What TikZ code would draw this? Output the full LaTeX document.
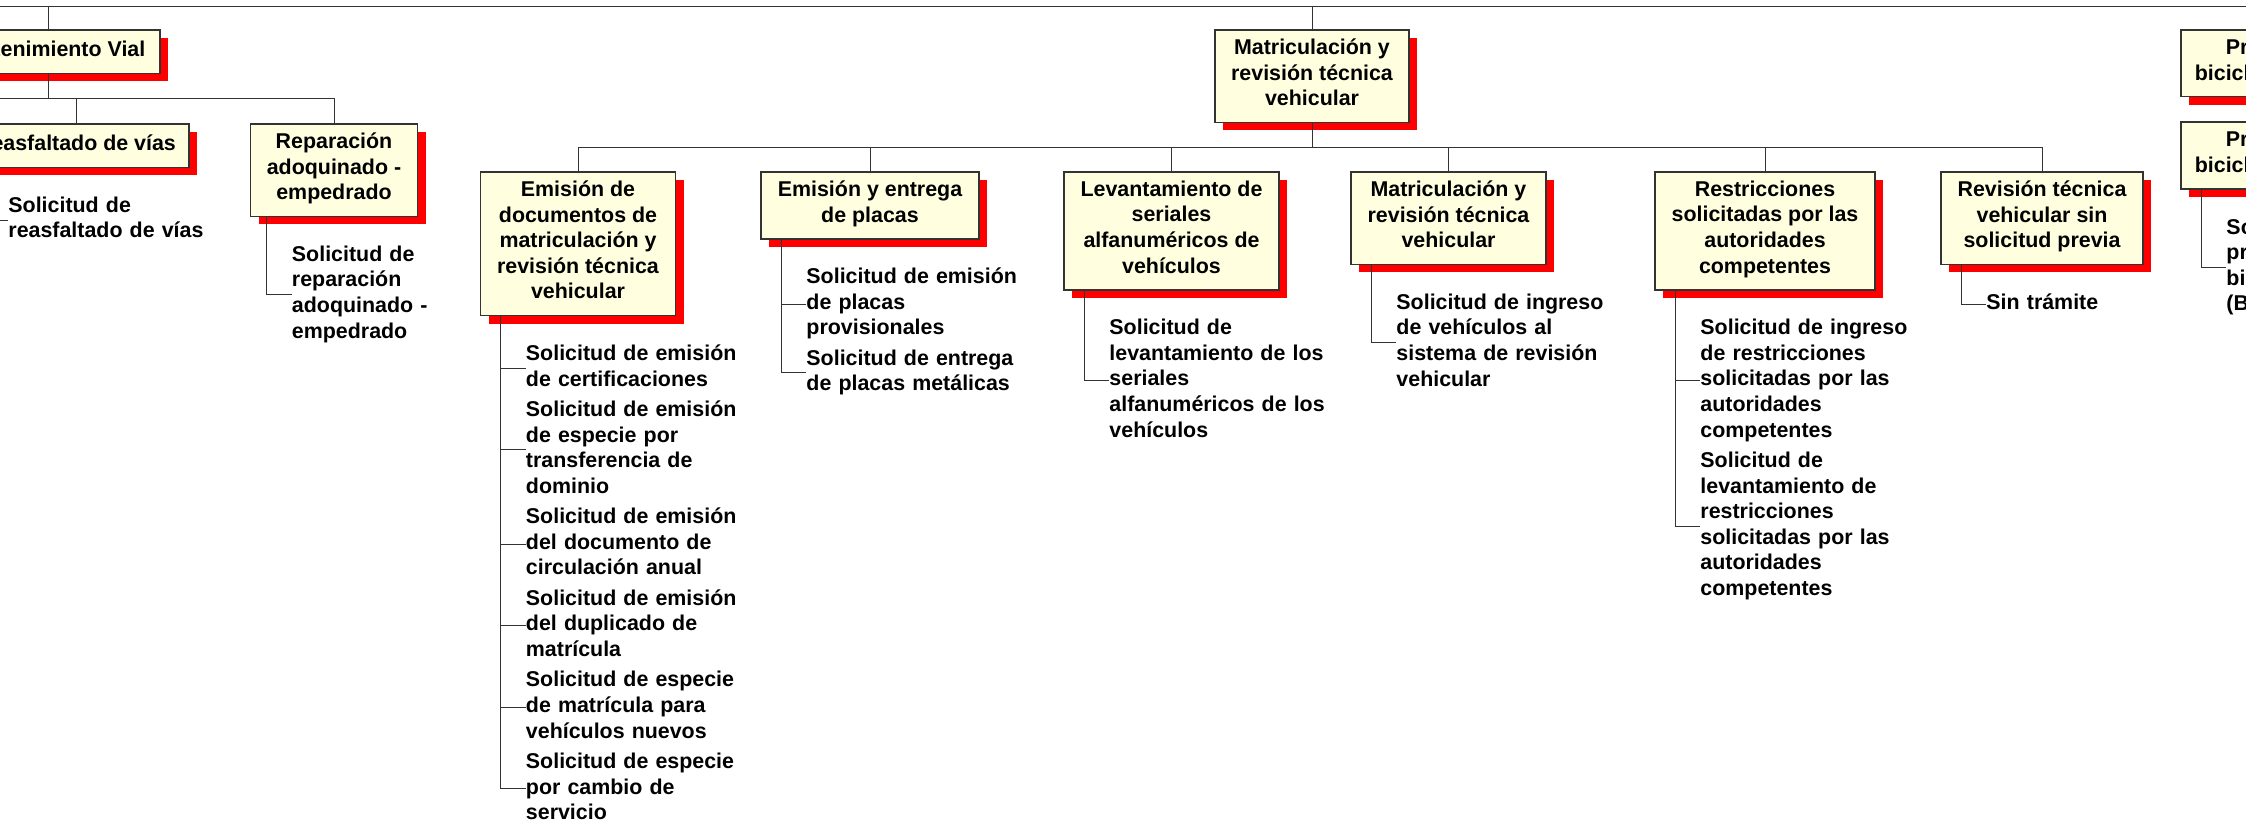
\documentclass[tikz,border=0pt]{standalone}
\usepackage{fontspec}
\setmainfont{Liberation Sans}
\usetikzlibrary{positioning,shadows}
\definecolor{boxfill}{RGB}{255,255,224}
\definecolor{linegray}{RGB}{51,51,51}

\begin{document}
\begin{tikzpicture}[x=1pt,y=-1pt]
  \tikzstyle{box} = [rectangle, draw=linegray, line width=1.5pt, fill=boxfill, align=center,
                     inner xsep=4pt, inner ysep=9pt, font=\fontsize{21.4}{25.6}\selectfont\bfseries,
                     execute at begin node=\strut, execute at end node=\strut,
                     drop shadow={shadow xshift=8pt, shadow yshift=-8pt, fill=red, opacity=1}]
  \tikzstyle{item} = [anchor=north west, inner sep=0pt, text width=230pt, align=left,
                      font=\fontsize{21.4}{25.6}\selectfont\bfseries,
                      execute at begin node=\strut, execute at end node=\strut]
  \tikzstyle{link} = [draw=linegray, line width=1pt]
\useasboundingbox (0,0) rectangle (2246,823);
\clip (0,0) rectangle (2246,823);
\node[box, minimum width=224pt, anchor=north] (mv) at (48,29) {Mantenimiento Vial};
\node[box, minimum width=194pt, anchor=north] (mrtv) at (1312,29) {Matriculación y\\revisión técnica\\vehicular};
\node[box, minimum width=218pt, anchor=north] (pb1) at (2290,29) {Préstamo de\\bicicletas públicas};
\node[box, minimum width=218pt, below=24pt of pb1] (pb2) {Préstamo de\\bicicletas públicas};
\node[box, minimum width=226pt, below=49pt of mv, xshift=28pt] (rv) {Reasfaltado de vías};
\node[box, minimum width=167pt, below=49pt of mv, xshift=286pt] (rae) {Reparación\\adoquinado -\\empedrado};
\node[box, minimum width=195pt, below=48pt of mrtv, xshift=-734pt] (edm) {Emisión de\\documentos de\\matriculación y\\revisión técnica\\vehicular};
\node[box, minimum width=218pt, below=48pt of mrtv, xshift=-442pt] (eep) {Emisión y entrega\\de placas};
\node[box, minimum width=215pt, below=48pt of mrtv, xshift=-140.5pt] (lsa) {Levantamiento de\\seriales\\alfanuméricos de\\vehículos};
\node[box, minimum width=195pt, below=48pt of mrtv, xshift=136.5pt] (mrv) {Matriculación y\\revisión técnica\\vehicular};
\node[box, minimum width=220pt, below=48pt of mrtv, xshift=453pt] (rsa) {Restricciones\\solicitadas por las\\autoridades\\competentes};
\node[box, minimum width=202pt, below=48pt of mrtv, xshift=730pt] (rts) {Revisión técnica\\vehicular sin\\solicitud previa};
\node[item, below right=26pt and 46pt of rv.south west] (rv1) {Solicitud de\\reasfaltado de vías};
\node[item, below right=26pt and 42pt of rae.south west] (rae1) {Solicitud de\\reparación\\adoquinado -\\empedrado};
\node[item, below right=26pt and 46pt of edm.south west] (edm1) {Solicitud de emisión\\de certificaciones};
\node[item, below=4.4pt of edm1] (edm2) {Solicitud de emisión\\de especie por\\transferencia de\\dominio};
\node[item, below=4.4pt of edm2] (edm3) {Solicitud de emisión\\del documento de\\circulación anual};
\node[item, below=4.4pt of edm3] (edm4) {Solicitud de emisión\\del duplicado de\\matrícula};
\node[item, below=4.4pt of edm4] (edm5) {Solicitud de especie\\de matrícula para\\vehículos nuevos};
\node[item, below=4.4pt of edm5] (edm6) {Solicitud de especie\\por cambio de\\servicio};
\node[item, below right=26pt and 46pt of eep.south west] (eep1) {Solicitud de emisión\\de placas\\provisionales};
\node[item, below=4.4pt of eep1] (eep2) {Solicitud de entrega\\de placas metálicas};
\node[item, below right=26pt and 46pt of lsa.south west] (lsa1) {Solicitud de\\levantamiento de los\\seriales\\alfanuméricos de los\\vehículos};
\node[item, below right=26pt and 46pt of mrv.south west] (mrv1) {Solicitud de ingreso\\de vehículos al\\sistema de revisión\\vehicular};
\node[item, below right=26pt and 46pt of rsa.south west] (rsa1) {Solicitud de ingreso\\de restricciones\\solicitadas por las\\autoridades\\competentes};
\node[item, below=4.4pt of rsa1] (rsa2) {Solicitud de\\levantamiento de\\restricciones\\solicitadas por las\\autoridades\\competentes};
\node[item, below right=26pt and 46pt of rts.south west] (rts1) {Sin trámite};
\node[item, below right=26pt and 46pt of pb2.south west] (pb21) {Solicitud de\\préstamo de\\bicicletas\\(BiciQuito)};
\coordinate (rootw) at (-50,6);
\coordinate (roote) at (2300,6);
\coordinate (mvw) at (-50,98);
\draw[link] (rootw) -- (roote);
\draw[link] (mv.north) -- (mv.north |- rootw);
\draw[link] (mrtv.north) -- (mrtv.north |- rootw);
\draw[link] (mv.south) -- (mv.south |- mvw);
\draw[link] (rv.north) -- (rv.north |- mvw);
\draw[link] (mvw) -| (rae.north);
\foreach \c in {edm,eep,lsa,mrv,rsa,rts}
  \draw[link] (mrtv.south) -- ++(0,24) -| (\c.north);
\draw[link] ([xshift=21pt]rv.south west) |- (rv1.west);
\draw[link] ([xshift=17pt]rae.south west) |- (rae1.west);
\foreach \i in {1,...,6}
  \draw[link] ([xshift=21pt]edm.south west) |- (edm\i.west);
\foreach \i in {1,2}
  \draw[link] ([xshift=21pt]eep.south west) |- (eep\i.west);
\draw[link] ([xshift=21pt]lsa.south west) |- (lsa1.west);
\draw[link] ([xshift=21pt]mrv.south west) |- (mrv1.west);
\foreach \i in {1,2}
  \draw[link] ([xshift=21pt]rsa.south west) |- (rsa\i.west);
\draw[link] ([xshift=21pt]rts.south west) |- (rts1.west);
\draw[link] ([xshift=21pt]pb2.south west) |- (pb21.west);
\end{tikzpicture}
\end{document}
